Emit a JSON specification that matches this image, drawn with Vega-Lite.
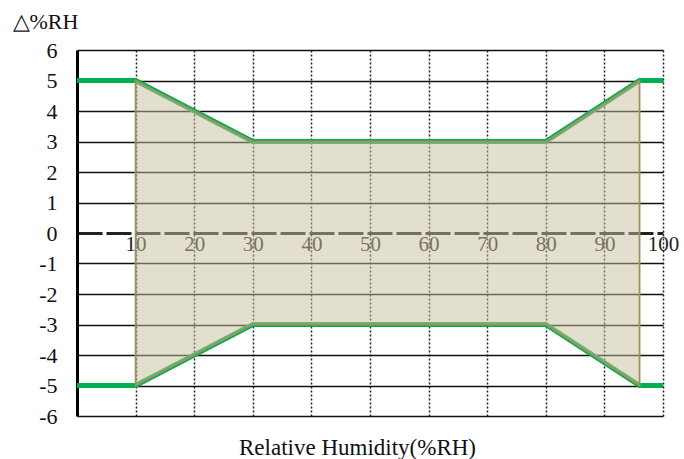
{
  "$schema": "https://vega.github.io/schema/vega-lite/v6.json",
  "width": 586,
  "height": 366,
  "autosize": {"type": "none"},
  "padding": {"left": 77, "top": 50, "right": 21, "bottom": 43},
  "background": "white",
  "config": {
    "view": {"stroke": null},
    "font": "Liberation Serif, Times New Roman, serif",
    "axis": {"labelFont": "Liberation Serif, Times New Roman, serif", "titleFont": "Liberation Serif, Times New Roman, serif"}
  },
  "encoding": {
    "x": {
      "field": "rh", "type": "quantitative",
      "scale": {"domain": [0, 100], "nice": false, "zero": false},
      "axis": {
        "values": [10, 20, 30, 40, 50, 60, 70, 80, 90, 100],
        "offset": -183,
        "domain": true,
        "domainColor": "#222",
        "domainWidth": 3,
        "domainDash": [25, 4],
        "ticks": false,
        "labelPadding": 0,
        "labelFontSize": 21,
        "labelColor": "#222",
        "labelOverlap": false,
        "labelFlush": false,
        "grid": true,
        "gridColor": "#222",
        "gridWidth": 1.5,
        "gridDash": [2, 2],
        "title": "Relative Humidity(%RH)",
        "titleFontSize": 23,
        "titleFontWeight": "normal",
        "titleColor": "#111",
        "titleX": 280,
        "titleY": 221,
        "titleAlign": "center",
        "titleBaseline": "alphabetic",
        "zindex": 0
      }
    },
    "y": {
      "field": "dev", "type": "quantitative",
      "scale": {"domain": [-6, 6], "nice": false, "zero": false},
      "axis": {
        "values": [-6, -5, -4, -3, -2, -1, 0, 1, 2, 3, 4, 5, 6],
        "tickCount": 13,
        "labelExpr": "'' + datum.value",
        "labelOverlap": false,
        "labelFlush": false,
        "domain": true,
        "domainColor": "#000",
        "domainWidth": 3,
        "ticks": false,
        "labelPadding": 20,
        "labelFontSize": 22,
        "labelColor": "#111",
        "grid": true,
        "gridColor": "#111",
        "gridWidth": 1.5,
        "gridOpacity": {"condition": {"test": "datum.value === 0", "value": 0}, "value": 1},
        "title": "△%RH",
        "titleFontSize": 22,
        "titleFontWeight": "normal",
        "titleColor": "#111",
        "titleAngle": 0,
        "titleX": -65,
        "titleY": -22,
        "titleAlign": "left",
        "titleBaseline": "alphabetic",
        "zindex": 0
      }
    }
  },
  "layer": [
    {
      "data": {"values": [
        {"rh": 0, "dev": 5, "series": "upper"},
        {"rh": 10, "dev": 5, "series": "upper"},
        {"rh": 30, "dev": 3, "series": "upper"},
        {"rh": 80, "dev": 3, "series": "upper"},
        {"rh": 96, "dev": 5, "series": "upper"},
        {"rh": 100, "dev": 5, "series": "upper"},
        {"rh": 0, "dev": -5, "series": "lower"},
        {"rh": 10, "dev": -5, "series": "lower"},
        {"rh": 30, "dev": -3, "series": "lower"},
        {"rh": 80, "dev": -3, "series": "lower"},
        {"rh": 96, "dev": -5, "series": "lower"},
        {"rh": 100, "dev": -5, "series": "lower"}
      ]},
      "mark": {"type": "line", "color": "#00b050", "strokeWidth": 5, "strokeCap": "butt"},
      "encoding": {
        "detail": {"field": "series", "type": "nominal"}
      }
    },
    {
      "data": {"values": [
        {"rh": 10, "dev": 5, "lo": -5},
        {"rh": 30, "dev": 3, "lo": -3},
        {"rh": 80, "dev": 3, "lo": -3},
        {"rh": 96, "dev": 5, "lo": -5}
      ]},
      "mark": {"type": "area", "fill": "#c7bf9f", "fillOpacity": 0.5, "stroke": "#a09060", "strokeWidth": 1.8},
      "encoding": {
        "y2": {"field": "lo"}
      }
    }
  ]
}
